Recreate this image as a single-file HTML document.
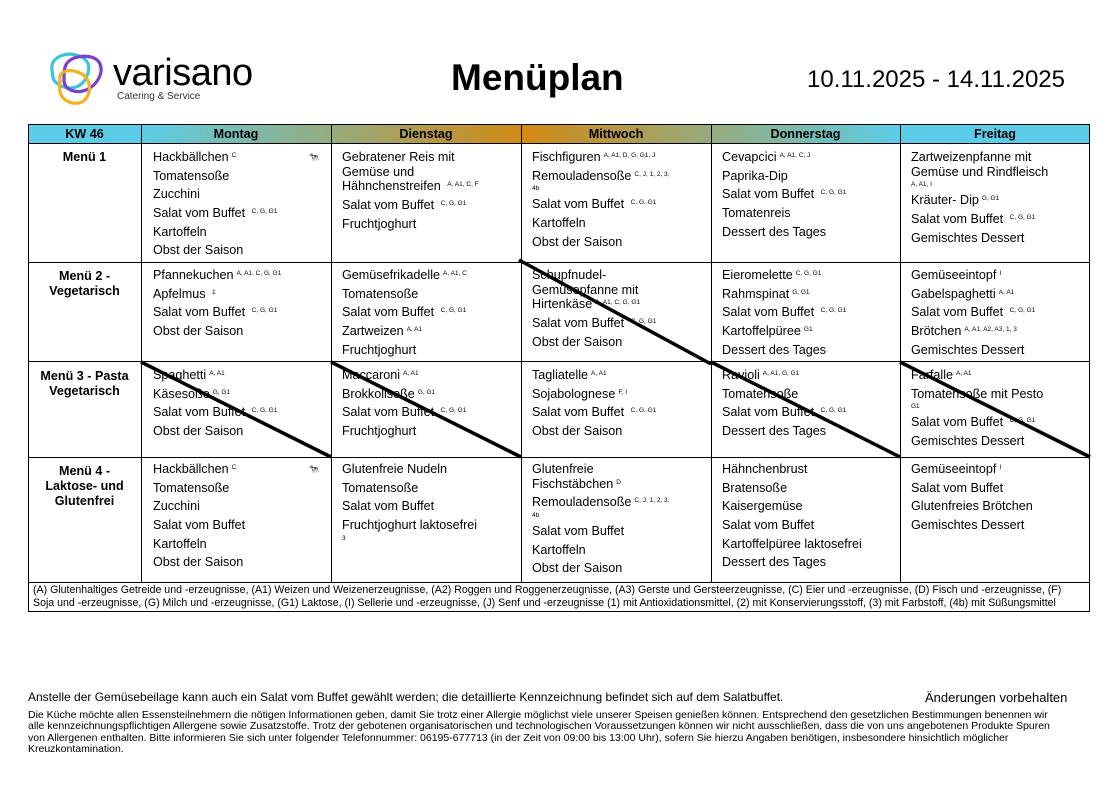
<!DOCTYPE html>
<html><head><meta charset="utf-8">
<style>
*{margin:0;padding:0;box-sizing:border-box}
body{width:1116px;height:793px;background:#fff;font-family:"Liberation Sans",Arial,sans-serif;color:#000;position:relative;overflow:hidden}
.abs{position:absolute}
.c{position:absolute;font-size:12.6px}
.c div{line-height:14.6px;margin-bottom:4.1px;white-space:nowrap}
.c div.s{font-size:6.5px;line-height:7px;margin-top:-2px;margin-bottom:5px}
sup{font-size:6.5px;vertical-align:4px;margin-left:3px;line-height:0}
.rh{position:absolute;left:28px;width:113px;text-align:center;font-weight:bold;font-size:12.6px;line-height:15px}
.hd{position:absolute;top:125px;height:18px;font-weight:bold;font-size:12.6px;text-align:center;line-height:18px}
</style></head><body>
<!-- logo -->
<svg class="abs" style="left:46px;top:50px" width="62" height="58" viewBox="0 0 62 58">
<path d="M6 20 C4 8 18 2 30 5 C42 8 46 16 40 28 C34 40 20 40 12 34 C6 30 7 26 6 20Z" fill="none" stroke="#3cc3e0" stroke-width="3.2"/>
<path d="M22 12 C30 4 50 4 54 14 C58 24 50 36 40 40 C30 44 18 40 18 30 C18 22 18 16 22 12Z" fill="none" stroke="#7a3fd0" stroke-width="3.2"/>
<path d="M14 30 C12 20 26 18 36 24 C46 30 46 46 36 52 C26 56 16 50 14 42 C13 36 14 34 14 30Z" fill="none" stroke="#f5b21e" stroke-width="3.2"/>
</svg>
<div class="abs" style="left:113px;top:51px;font-size:38px;line-height:44px;letter-spacing:-0.5px">varisano</div>
<div class="abs" style="left:117px;top:91px;font-size:10px;color:#333">Catering &amp; Service</div>
<div class="abs" style="left:451px;top:57px;font-size:37px;font-weight:bold;line-height:42px">Menüplan</div>
<div class="abs" style="left:807px;top:66px;font-size:24px;line-height:28px">10.11.2025 - 14.11.2025</div>

<!-- header -->
<div class="abs" style="left:28px;top:124px;width:1062px;height:20px;background:linear-gradient(90deg,#5ccde8 0,#5ccde8 113px,#5ccde8 113px,#d08a16 492px,#d08a16 500px,#5ccde8 872px,#5ccde8 100%)"></div>
<div class="hd" style="left:28px;width:113px">KW 46</div>
<div class="hd" style="left:141px;width:190px">Montag</div>
<div class="hd" style="left:331px;width:190px">Dienstag</div>
<div class="hd" style="left:521px;width:190px">Mittwoch</div>
<div class="hd" style="left:711px;width:189px">Donnerstag</div>
<div class="hd" style="left:900px;width:190px">Freitag</div>

<!-- grid -->
<svg class="abs" style="left:0;top:0" width="1116" height="793">
<g stroke="#000" stroke-width="1" fill="none">
<rect x="28.5" y="124.5" width="1061" height="487"/>
<line x1="28" y1="143.5" x2="1090" y2="143.5"/>
<line x1="28" y1="262.5" x2="1090" y2="262.5"/>
<line x1="28" y1="361.5" x2="1090" y2="361.5"/>
<line x1="28" y1="457.5" x2="1090" y2="457.5"/>
<line x1="28" y1="582.5" x2="1090" y2="582.5"/>
<line x1="141.5" y1="124" x2="141.5" y2="582"/>
<line x1="331.5" y1="124" x2="331.5" y2="582"/>
<line x1="521.5" y1="124" x2="521.5" y2="582"/>
<line x1="711.5" y1="124" x2="711.5" y2="582"/>
<line x1="900.5" y1="124" x2="900.5" y2="582"/>
</g>
<g stroke="#000" stroke-width="3.5">
<line x1="519" y1="260" x2="711" y2="364"/>
<line x1="141" y1="362" x2="331" y2="457"/>
<line x1="331" y1="362" x2="521" y2="457"/>
<line x1="711" y1="362" x2="900" y2="457"/>
<line x1="900" y1="362" x2="1090" y2="457"/>
</g>
<text x="308" y="160" font-size="9" fill="#555">🐄</text>
<text x="308" y="472" font-size="9" fill="#555">🐄</text>
</svg>

<div class="rh" style="top:150px">Menü 1</div>
<div class="rh" style="top:269px">Menü 2 -<br>Vegetarisch</div>
<div class="rh" style="top:369px">Menü 3 - Pasta<br>Vegetarisch</div>
<div class="rh" style="top:464px">Menü 4 -<br>Laktose- und<br>Glutenfrei</div>

<!-- row1 -->
<div class="c" style="left:153px;top:150px"><div>Hackbällchen<sup>C</sup></div><div>Tomatensoße</div><div>Zucchini</div><div>Salat vom Buffet <sup>C, G, G1</sup></div><div>Kartoffeln</div><div>Obst der Saison</div></div>
<div class="c" style="left:342px;top:150px"><div>Gebratener Reis mit<br>Gemüse und<br>Hähnchenstreifen <sup>A, A1, C, F</sup></div><div>Salat vom Buffet <sup>C, G, G1</sup></div><div>Fruchtjoghurt</div></div>
<div class="c" style="left:532px;top:150px"><div>Fischfiguren<sup>A, A1, D, G, G1, J</sup></div><div>Remouladensoße<sup>C, J, 1, 2, 3,</sup></div><div class="s">4b</div><div>Salat vom Buffet <sup>C, G, G1</sup></div><div>Kartoffeln</div><div>Obst der Saison</div></div>
<div class="c" style="left:722px;top:150px"><div>Cevapcici<sup>A, A1, C, J</sup></div><div>Paprika-Dip</div><div>Salat vom Buffet <sup>C, G, G1</sup></div><div>Tomatenreis</div><div>Dessert des Tages</div></div>
<div class="c" style="left:911px;top:150px"><div>Zartweizenpfanne mit<br>Gemüse und Rindfleisch</div><div class="s">A, A1, I</div><div>Kräuter- Dip<sup>G, G1</sup></div><div>Salat vom Buffet <sup>C, G, G1</sup></div><div>Gemischtes Dessert</div></div>

<!-- row2 -->
<div class="c" style="left:153px;top:268px"><div>Pfannekuchen<sup>A, A1, C, G, G1</sup></div><div>Apfelmus <sup>1</sup></div><div>Salat vom Buffet <sup>C, G, G1</sup></div><div>Obst der Saison</div></div>
<div class="c" style="left:342px;top:268px"><div>Gemüsefrikadelle<sup>A, A1, C</sup></div><div>Tomatensoße</div><div>Salat vom Buffet <sup>C, G, G1</sup></div><div>Zartweizen<sup>A, A1</sup></div><div>Fruchtjoghurt</div></div>
<div class="c" style="left:532px;top:268px"><div>Schupfnudel-<br>Gemüsepfanne mit<br>Hirtenkäse<sup>A, A1, C, G, G1</sup></div><div>Salat vom Buffet <sup>C, G, G1</sup></div><div>Obst der Saison</div></div>
<div class="c" style="left:722px;top:268px"><div>Eieromelette<sup>C, G, G1</sup></div><div>Rahmspinat<sup>G, G1</sup></div><div>Salat vom Buffet <sup>C, G, G1</sup></div><div>Kartoffelpüree<sup>G1</sup></div><div>Dessert des Tages</div></div>
<div class="c" style="left:911px;top:268px"><div>Gemüseeintopf<sup>I</sup></div><div>Gabelspaghetti<sup>A, A1</sup></div><div>Salat vom Buffet <sup>C, G, G1</sup></div><div>Brötchen<sup>A, A1, A2, A3, 1, 3</sup></div><div>Gemischtes Dessert</div></div>

<!-- row3 -->
<div class="c" style="left:153px;top:368px"><div>Spaghetti<sup>A, A1</sup></div><div>Käsesoße<sup>G, G1</sup></div><div>Salat vom Buffet <sup>C, G, G1</sup></div><div>Obst der Saison</div></div>
<div class="c" style="left:342px;top:368px"><div>Maccaroni<sup>A, A1</sup></div><div>Brokkolisoße<sup>G, G1</sup></div><div>Salat vom Buffet <sup>C, G, G1</sup></div><div>Fruchtjoghurt</div></div>
<div class="c" style="left:532px;top:368px"><div>Tagliatelle<sup>A, A1</sup></div><div>Sojabolognese<sup>F, I</sup></div><div>Salat vom Buffet <sup>C, G, G1</sup></div><div>Obst der Saison</div></div>
<div class="c" style="left:722px;top:368px"><div>Ravioli<sup>A, A1, G, G1</sup></div><div>Tomatensoße</div><div>Salat vom Buffet <sup>C, G, G1</sup></div><div>Dessert des Tages</div></div>
<div class="c" style="left:911px;top:368px"><div>Farfalle<sup>A, A1</sup></div><div>Tomatensoße mit Pesto</div><div class="s">G1</div><div>Salat vom Buffet <sup>C, G, G1</sup></div><div>Gemischtes Dessert</div></div>

<!-- row4 -->
<div class="c" style="left:153px;top:462px"><div>Hackbällchen<sup>C</sup></div><div>Tomatensoße</div><div>Zucchini</div><div>Salat vom Buffet</div><div>Kartoffeln</div><div>Obst der Saison</div></div>
<div class="c" style="left:342px;top:462px"><div>Glutenfreie Nudeln</div><div>Tomatensoße</div><div>Salat vom Buffet</div><div>Fruchtjoghurt laktosefrei</div><div class="s">3</div></div>
<div class="c" style="left:532px;top:462px"><div>Glutenfreie<br>Fischstäbchen<sup>D</sup></div><div>Remouladensoße<sup>C, J, 1, 2, 3,</sup></div><div class="s">4b</div><div>Salat vom Buffet</div><div>Kartoffeln</div><div>Obst der Saison</div></div>
<div class="c" style="left:722px;top:462px"><div>Hähnchenbrust</div><div>Bratensoße</div><div>Kaisergemüse</div><div>Salat vom Buffet</div><div>Kartoffelpüree laktosefrei</div><div>Dessert des Tages</div></div>
<div class="c" style="left:911px;top:462px"><div>Gemüseeintopf<sup>I</sup></div><div>Salat vom Buffet</div><div>Glutenfreies Brötchen</div><div>Gemischtes Dessert</div></div>

<div class="abs" style="left:33px;top:584px;font-size:10.6px;line-height:13px;white-space:nowrap">(A) Glutenhaltiges Getreide und -erzeugnisse, (A1) Weizen und Weizenerzeugnisse, (A2) Roggen und Roggenerzeugnisse, (A3) Gerste und Gersteerzeugnisse, (C) Eier und -erzeugnisse, (D) Fisch und -erzeugnisse, (F)<br>Soja und -erzeugnisse, (G) Milch und -erzeugnisse, (G1) Laktose, (I) Sellerie und -erzeugnisse, (J) Senf und -erzeugnisse (1) mit Antioxidationsmittel, (2) mit Konservierungsstoff, (3) mit Farbstoff, (4b) mit Süßungsmittel</div>

<div class="abs" style="left:28px;top:690px;font-size:12px;white-space:nowrap">Anstelle der Gemüsebeilage kann auch ein Salat vom Buffet gewählt werden; die detaillierte Kennzeichnung befindet sich auf dem Salatbuffet.</div>
<div class="abs" style="left:925px;top:690px;font-size:13px;white-space:nowrap">Änderungen vorbehalten</div>
<div class="abs" style="left:28px;top:710px;font-size:10.5px;line-height:11.4px;white-space:nowrap">Die Küche möchte allen Essensteilnehmern die nötigen Informationen geben, damit Sie trotz einer Allergie möglichst viele unserer Speisen genießen können. Entsprechend den gesetzlichen Bestimmungen benennen wir<br>alle kennzeichnungspflichtigen Allergene sowie Zusatzstoffe. Trotz der gebotenen organisatorischen und technologischen Voraussetzungen können wir nicht ausschließen, dass die von uns angebotenen Produkte Spuren<br>von Allergenen enthalten. Bitte informieren Sie sich unter folgender Telefonnummer: 06195-677713 (in der Zeit von 09:00 bis 13:00 Uhr), sofern Sie hierzu Angaben benötigen, insbesondere hinsichtlich möglicher<br>Kreuzkontamination.</div>
</body></html>
